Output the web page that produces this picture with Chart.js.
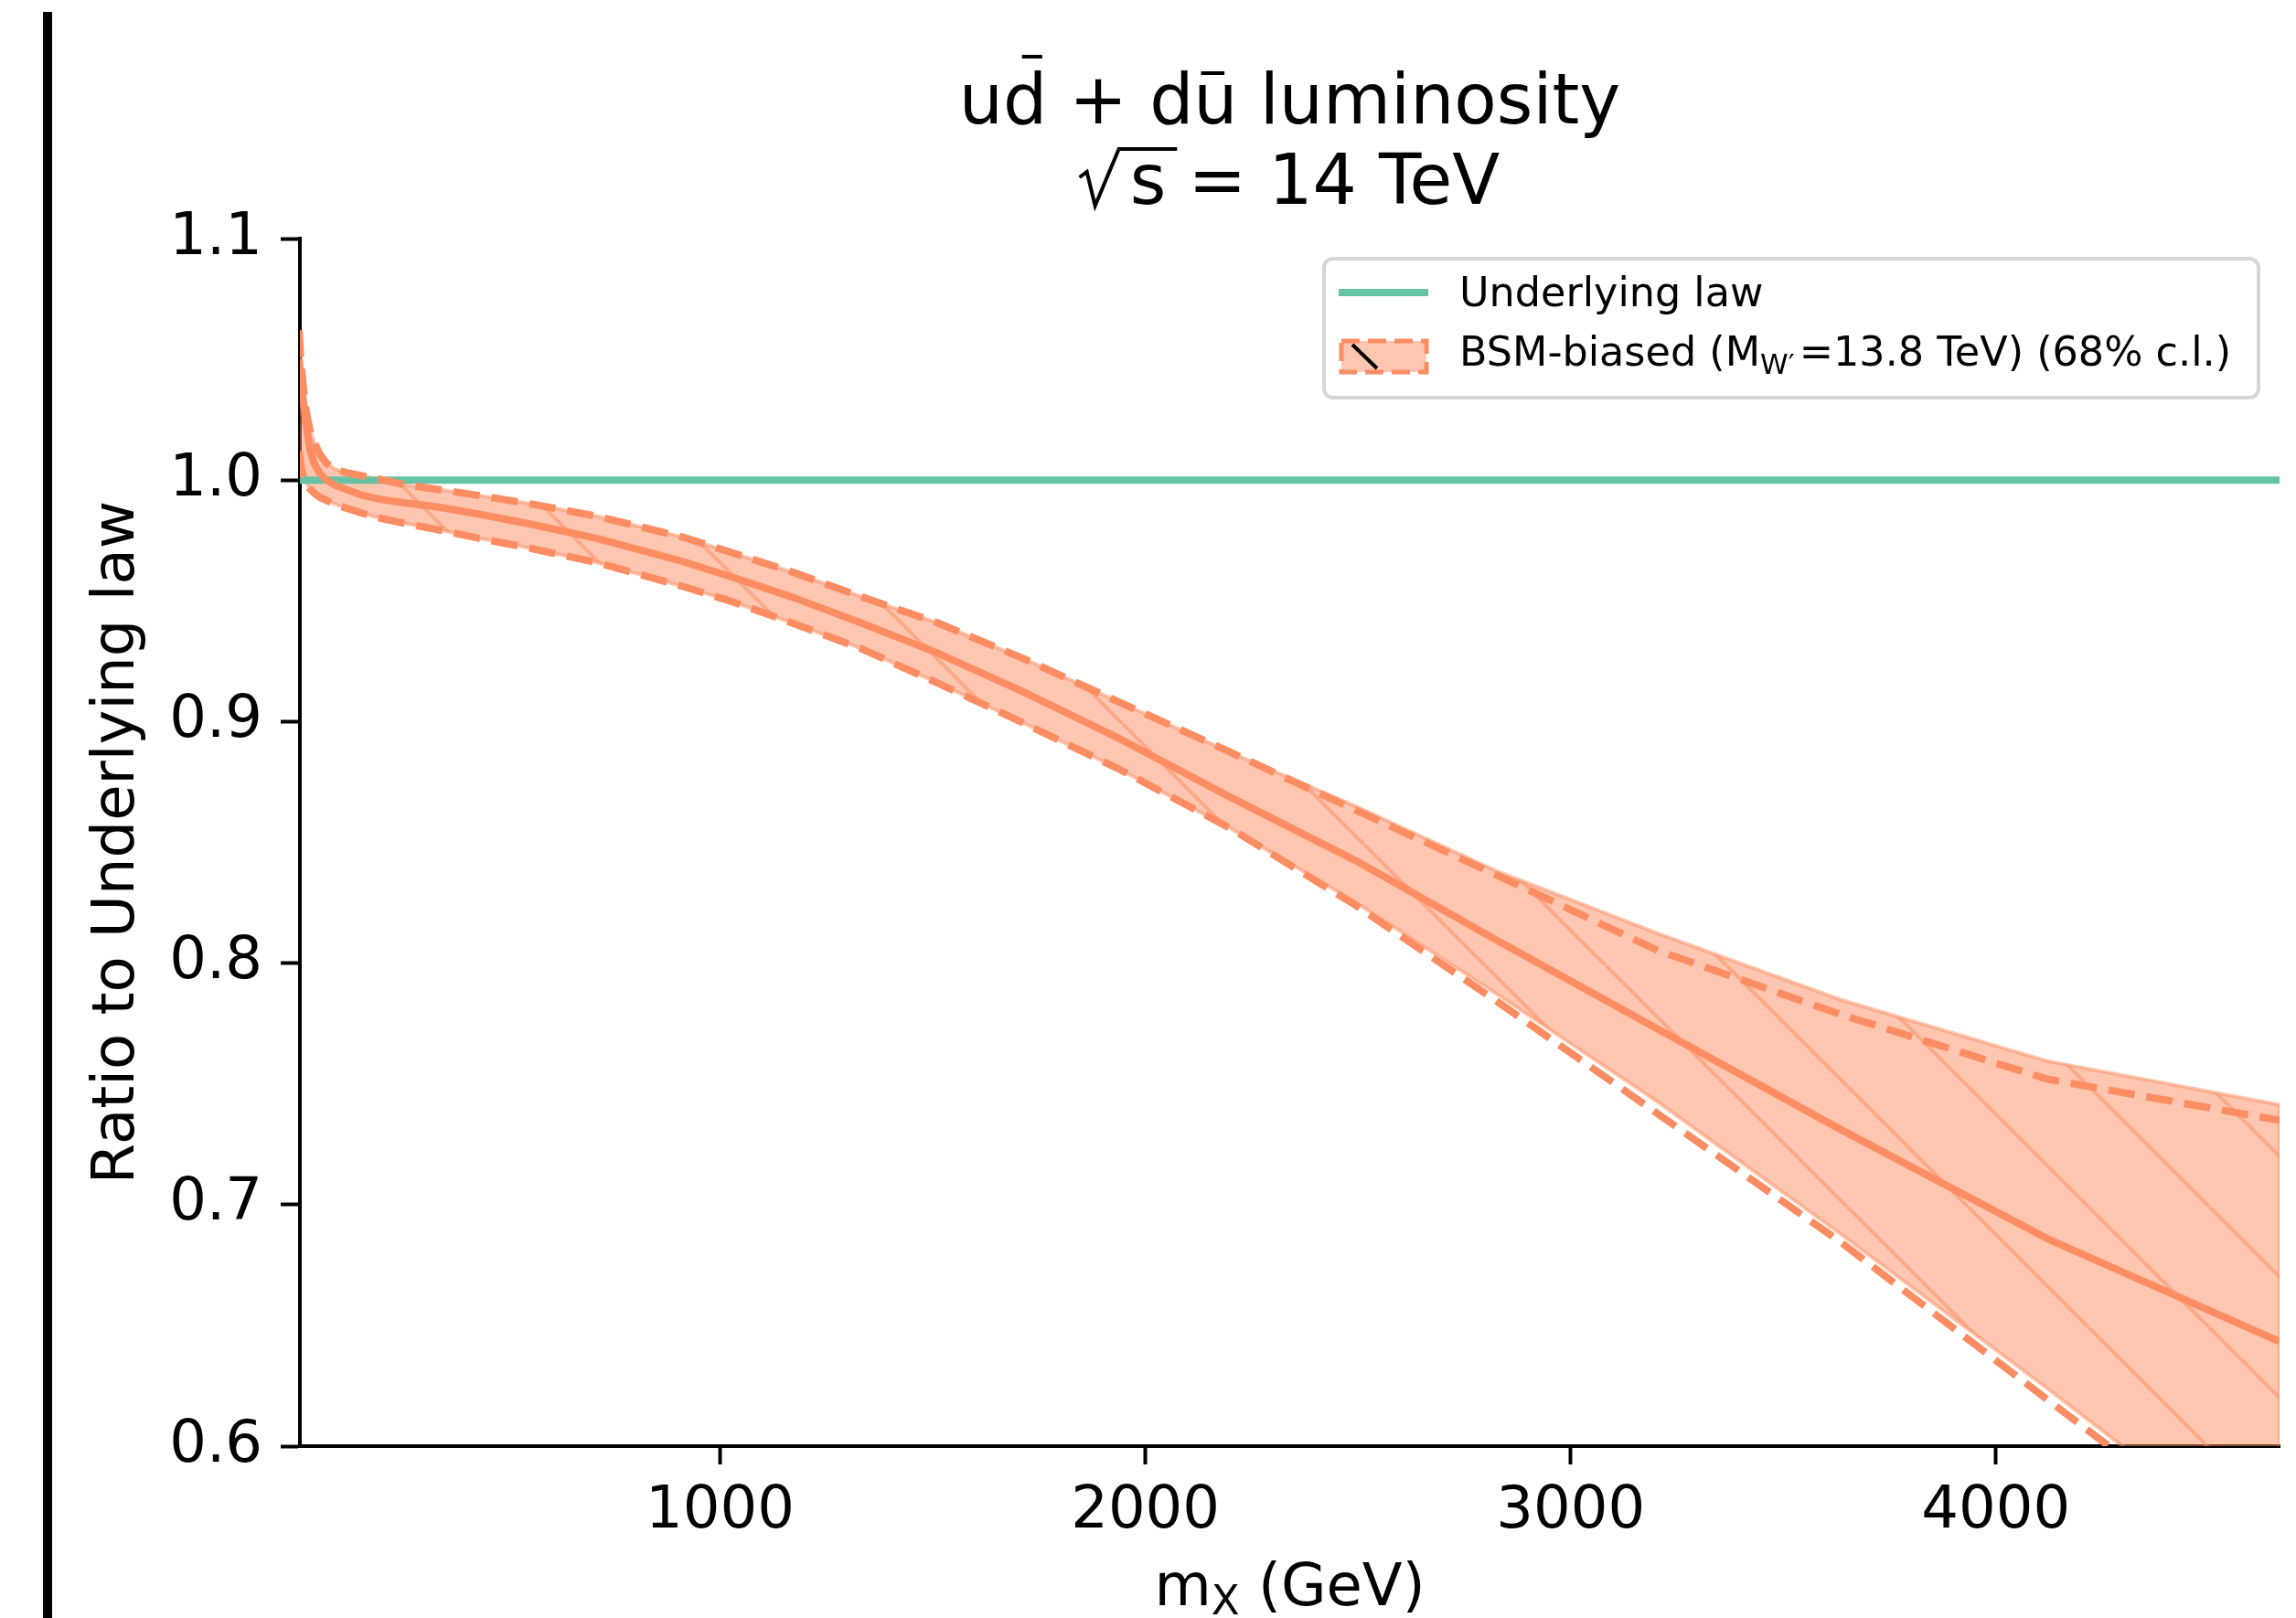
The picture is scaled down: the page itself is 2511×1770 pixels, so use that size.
<!DOCTYPE html>
<html>
<head>
<meta charset="utf-8">
<script src="https://cdn.jsdelivr.net/npm/chart.js@4.4.0/dist/chart.umd.min.js"></script>
<style>
  html, body { margin: 0; padding: 0; background: #fff; }
  canvas { display: block; }
</style>
</head>
<body>
<canvas id="lumi" width="2511" height="1770"></canvas>
<script>
    // mass grid (GeV), log spaced like the original sampling
    const massGeV = [10, 12.85, 16.5, 21.2, 27.3, 35.05, 45, 57.9, 74.4, 95.6, 122.9, 157.9,
        202.9, 260.8, 335.1, 430.7, 553.5, 711.4, 914.2, 1036, 1175, 1332, 1510, 1712,
        1941, 2200, 2494, 2828, 3205, 3634, 4120, 4667];

    // central value of the BSM-biased fit
    const centralRatio = [1.050, 1.043, 1.037, 1.031, 1.022, 1.013, 1.007, 1.003, 1.000, 0.9978,
        0.9960, 0.9937, 0.9920, 0.9905, 0.9889, 0.9860, 0.9818, 0.9758, 0.9662, 0.9594, 0.9512,
        0.9408, 0.9285, 0.9124, 0.8928, 0.8687, 0.8425, 0.8093, 0.7727, 0.7312, 0.6860, 0.6433];

    // dashed 68% c.l. limits
    const upperDashed = [1.062, 1.053, 1.045, 1.036, 1.028, 1.021, 1.016, 1.011, 1.007, 1.0045,
        1.003, 1.0018, 1.0002, 0.998, 0.9962, 0.9937, 0.9902, 0.985, 0.9763, 0.9695, 0.9616,
        0.9517, 0.941, 0.9262, 0.9079, 0.8873, 0.8634, 0.8363, 0.8052, 0.7788, 0.7520, 0.7349];
    const lowerDashed = [1.012, 1.008, 1.004, 1.001, 0.9987, 0.9965, 0.9947, 0.993, 0.9916, 0.990,
        0.9883, 0.9863, 0.9841, 0.982, 0.9795, 0.976, 0.9718, 0.9658, 0.9559, 0.9492, 0.9405,
        0.9302, 0.9161, 0.8995, 0.8801, 0.8558, 0.8240, 0.7840, 0.7376, 0.6846, 0.6194, 0.5465];

    // shaded band edges
    const bandUpper = [1.062, 1.053, 1.045, 1.036, 1.028, 1.021, 1.016, 1.011, 1.007, 1.0045,
        1.003, 1.0018, 1.0002, 0.998, 0.9962, 0.9937, 0.9902, 0.985, 0.9763, 0.9695, 0.9616,
        0.9517, 0.941, 0.9262, 0.9079, 0.8873, 0.8650, 0.8380, 0.8123, 0.7849, 0.7595, 0.7414];
    const bandLower = [1.012, 1.008, 1.004, 1.001, 0.9987, 0.9965, 0.9947, 0.993, 0.9916, 0.990,
        0.9883, 0.9863, 0.9841, 0.982, 0.9795, 0.976, 0.9718, 0.9658, 0.9559, 0.9492, 0.9405,
        0.9302, 0.9161, 0.8995, 0.8801, 0.8558, 0.8252, 0.7870, 0.7425, 0.6880, 0.6240, 0.5500];

    // underlying law reference
    const lawMass = [10, 4667];
    const lawRatio = [1.0, 1.0];

    const xTickValues = [1000, 2000, 3000, 4000];
    const yTickValues = [0.6, 0.7, 0.8, 0.9, 1.0, 1.1];

    const FONT = "'DejaVu Sans', sans-serif";
    const ORANGE = '#fc8d62';
    const ORANGE_HALF = 'rgba(252, 141, 98, 0.5)';
    const TEAL = '#66c2a5';

    const toPoints = (xs, ys) => xs.map((x, i) => ({ x: x, y: ys[i] }));

    // fill + "\" hatch in one repeating tile
    function makeHatch() {
        const size = 132;
        const c = document.createElement('canvas');
        c.width = size;
        c.height = size;
        const g = c.getContext('2d');
        g.fillStyle = ORANGE_HALF;
        g.fillRect(0, 0, size, size);
        g.strokeStyle = ORANGE_HALF;
        g.lineWidth = 4;
        for (let k = -1; k <= 1; k++) {
            g.beginPath();
            g.moveTo(k * size, 0);
            g.lineTo(k * size + size, size);
            g.stroke();
        }
        const p = g.createPattern(c, 'repeat');
        p.setTransform(new DOMMatrix().translate(40, 0));
        return p;
    }

    function roundRectPath(ctx, x, y, w, h, r) {
        ctx.beginPath();
        ctx.moveTo(x + r, y);
        ctx.lineTo(x + w - r, y);
        ctx.arcTo(x + w, y, x + w, y + r, r);
        ctx.lineTo(x + w, y + h - r);
        ctx.arcTo(x + w, y + h, x + w - r, y + h, r);
        ctx.lineTo(x + r, y + h);
        ctx.arcTo(x, y + h, x, y + h - r, r);
        ctx.lineTo(x, y + r);
        ctx.arcTo(x, y, x + r, y, r);
        ctx.closePath();
    }

    function drawTitle(ctx, cx) {
        ctx.save();
        ctx.fillStyle = '#000';
        ctx.font = '76px ' + FONT;
        ctx.textAlign = 'left';
        ctx.textBaseline = 'alphabetic';

        // line 1: u dbar + d ubar luminosity
        const line1 = 'ud + du luminosity';
        const w1 = ctx.measureText(line1).width;
        const x1 = cx - w1 / 2;
        ctx.fillText(line1, x1, 135);
        const wu = ctx.measureText('u').width;
        const wd = ctx.measureText('d').width;
        ctx.fillRect(x1 + wu + 0.43 * wd, 60, 0.46 * wd, 4);
        const pre = ctx.measureText('ud + d').width;
        ctx.fillRect(x1 + pre + 0.17 * wu, 78, 0.53 * wu, 4);

        // line 2: sqrt(s) = 14 TeV
        const rest = 's = 14 TeV';
        const wr = ctx.measureText(rest).width;
        const ws = ctx.measureText('s').width;
        const x0 = cx - (55 + wr) / 2;
        ctx.strokeStyle = '#000';
        ctx.lineWidth = 4;
        ctx.lineJoin = 'miter';
        ctx.beginPath();
        ctx.moveTo(x0, 194);
        ctx.lineTo(x0 + 8, 188);
        ctx.lineTo(x0 + 17, 225);
        ctx.lineTo(x0 + 43, 163);
        ctx.lineTo(x0 + 55 + ws + 12, 163);
        ctx.stroke();
        ctx.fillText(rest, x0 + 55, 223);
        ctx.restore();
    }

    function drawAxisTitles(ctx, area, cx) {
        ctx.save();
        ctx.fillStyle = '#000';
        ctx.font = '64px ' + FONT;
        ctx.textBaseline = 'alphabetic';

        ctx.save();
        ctx.translate(146, (area.top + area.bottom) / 2);
        ctx.rotate(-Math.PI / 2);
        ctx.textAlign = 'center';
        ctx.fillText('Ratio to Underlying law', 0, 0);
        ctx.restore();

        // m_X (GeV)
        ctx.textAlign = 'left';
        const wm = ctx.measureText('m').width;
        const wg = ctx.measureText(' (GeV)').width;
        ctx.font = '45px ' + FONT;
        const wx = ctx.measureText('X').width;
        const start = cx - (wm + wx + wg) / 2;
        ctx.font = '64px ' + FONT;
        ctx.fillText('m', start, 1756);
        ctx.fillText(' (GeV)', start + wm + wx, 1756);
        ctx.font = '45px ' + FONT;
        ctx.fillText('X', start + wm, 1766);
        ctx.restore();
    }

    function drawLegend(ctx) {
        ctx.save();
        roundRectPath(ctx, 1448, 283, 1022, 152, 10);
        ctx.fillStyle = 'rgba(255,255,255,0.8)';
        ctx.fill();
        ctx.strokeStyle = '#d6d6d6';
        ctx.lineWidth = 4;
        ctx.stroke();

        // entry 1
        ctx.strokeStyle = TEAL;
        ctx.lineWidth = 8;
        ctx.beginPath();
        ctx.moveTo(1464, 320);
        ctx.lineTo(1562, 320);
        ctx.stroke();

        // entry 2 patch
        ctx.fillStyle = ORANGE_HALF;
        ctx.fillRect(1467, 373, 93, 34);
        ctx.strokeStyle = ORANGE;
        ctx.lineWidth = 5;
        ctx.setLineDash([20, 9]);
        ctx.strokeRect(1467, 373, 93, 34);
        ctx.setLineDash([]);
        ctx.strokeStyle = '#000';
        ctx.lineWidth = 4;
        ctx.beginPath();
        ctx.moveTo(1479, 377);
        ctx.lineTo(1506, 403);
        ctx.stroke();

        ctx.fillStyle = '#000';
        ctx.textAlign = 'left';
        ctx.textBaseline = 'alphabetic';
        ctx.font = '44.5px ' + FONT;
        ctx.fillText('Underlying law', 1596, 335);
        const a = 'BSM-biased (M';
        ctx.fillText(a, 1596, 400);
        let x = 1596 + ctx.measureText(a).width;
        ctx.font = '31px ' + FONT;
        ctx.fillText('W\u2032', x, 409);
        x += ctx.measureText('W\u2032').width + 5;
        ctx.font = '44.5px ' + FONT;
        ctx.fillText('=13.8 TeV) (68% c.l.)', x, 400);
        ctx.restore();
    }

    const decorPlugin = {
        id: 'decor',
        beforeDraw(chart) {
            const ctx = chart.ctx;
            ctx.save();
            ctx.fillStyle = '#fff';
            ctx.fillRect(0, 0, chart.width, chart.height);
            ctx.restore();
        },
        afterDraw(chart) {
            const ctx = chart.ctx;
            const area = chart.chartArea;
            const cx = (area.left + area.right) / 2;
            // scanned page edge on the left
            ctx.save();
            ctx.fillStyle = '#000';
            ctx.fillRect(47, 13, 10, 1757);
            ctx.restore();
            drawTitle(ctx, cx);
            drawAxisTitles(ctx, area, cx);
            drawLegend(ctx);
        }
    };

    const last = massGeV.length - 1;
    const lineDefaults = { pointRadius: 0, tension: 0, clip: 0, fill: false };

    new Chart(document.getElementById('lumi'), {
        type: 'line',
        data: {
            datasets: [
                Object.assign({}, lineDefaults, {
                    label: 'band upper',
                    data: toPoints(massGeV, bandUpper),
                    fill: '+1',
                    backgroundColor: makeHatch(),
                    borderColor: ORANGE_HALF,
                    borderWidth: 4,
                    order: 7
                }),
                Object.assign({}, lineDefaults, {
                    label: 'band lower',
                    data: toPoints(massGeV, bandLower),
                    borderColor: ORANGE_HALF,
                    borderWidth: 4,
                    order: 6
                }),
                Object.assign({}, lineDefaults, {
                    label: 'band end',
                    data: [{ x: massGeV[last], y: bandUpper[last] }, { x: massGeV[last], y: bandLower[last] }],
                    borderColor: ORANGE_HALF,
                    borderWidth: 4,
                    order: 5
                }),
                Object.assign({}, lineDefaults, {
                    label: 'Underlying law',
                    data: toPoints(lawMass, lawRatio),
                    borderColor: TEAL,
                    borderWidth: 8,
                    order: 4
                }),
                Object.assign({}, lineDefaults, {
                    label: 'upper 68%',
                    data: toPoints(massGeV, upperDashed),
                    borderColor: ORANGE,
                    borderWidth: 8,
                    borderDash: [29, 13],
                    order: 3
                }),
                Object.assign({}, lineDefaults, {
                    label: 'lower 68%',
                    data: toPoints(massGeV, lowerDashed),
                    borderColor: ORANGE,
                    borderWidth: 8,
                    borderDash: [29, 13],
                    order: 2
                }),
                Object.assign({}, lineDefaults, {
                    label: 'BSM-biased',
                    data: toPoints(massGeV, centralRatio),
                    borderColor: ORANGE,
                    borderWidth: 8,
                    borderJoinStyle: 'round',
                    order: 1
                })
            ]
        },
        options: {
            responsive: false,
            maintainAspectRatio: false,
            devicePixelRatio: 1,
            animation: false,
            layout: { padding: { top: 261, right: 18, left: 0, bottom: 0 } },
            plugins: {
                legend: { display: false },
                title: { display: false },
                tooltip: { enabled: false }
            },
            scales: {
                x: {
                    type: 'linear',
                    min: 12,
                    max: 4667,
                    afterBuildTicks: (s) => { s.ticks = xTickValues.map(v => ({ value: v })); },
                    afterFit: (s) => { s.height = 188; },
                    grid: { display: true, drawOnChartArea: false, drawTicks: true, tickLength: 20, tickWidth: 4, tickColor: '#000' },
                    border: { display: true, color: '#000', width: 4 },
                    ticks: {
                        color: '#000',
                        font: { family: FONT, size: 64 },
                        padding: 14,
                        maxRotation: 0,
                        autoSkip: false,
                        callback: (v) => String(v)
                    }
                },
                y: {
                    type: 'linear',
                    min: 0.6,
                    max: 1.1,
                    afterBuildTicks: (s) => { s.ticks = yTickValues.map(v => ({ value: v })); },
                    afterFit: (s) => { s.width = 328; },
                    grid: { display: true, drawOnChartArea: false, drawTicks: true, tickLength: 21, tickWidth: 4, tickColor: '#000' },
                    border: { display: true, color: '#000', width: 4 },
                    ticks: {
                        color: '#000',
                        font: { family: FONT, size: 64 },
                        padding: 20,
                        autoSkip: false,
                        callback: (v) => v.toFixed(1)
                    }
                }
            }
        },
        plugins: [decorPlugin]
    });
</script>
</body>
</html>
